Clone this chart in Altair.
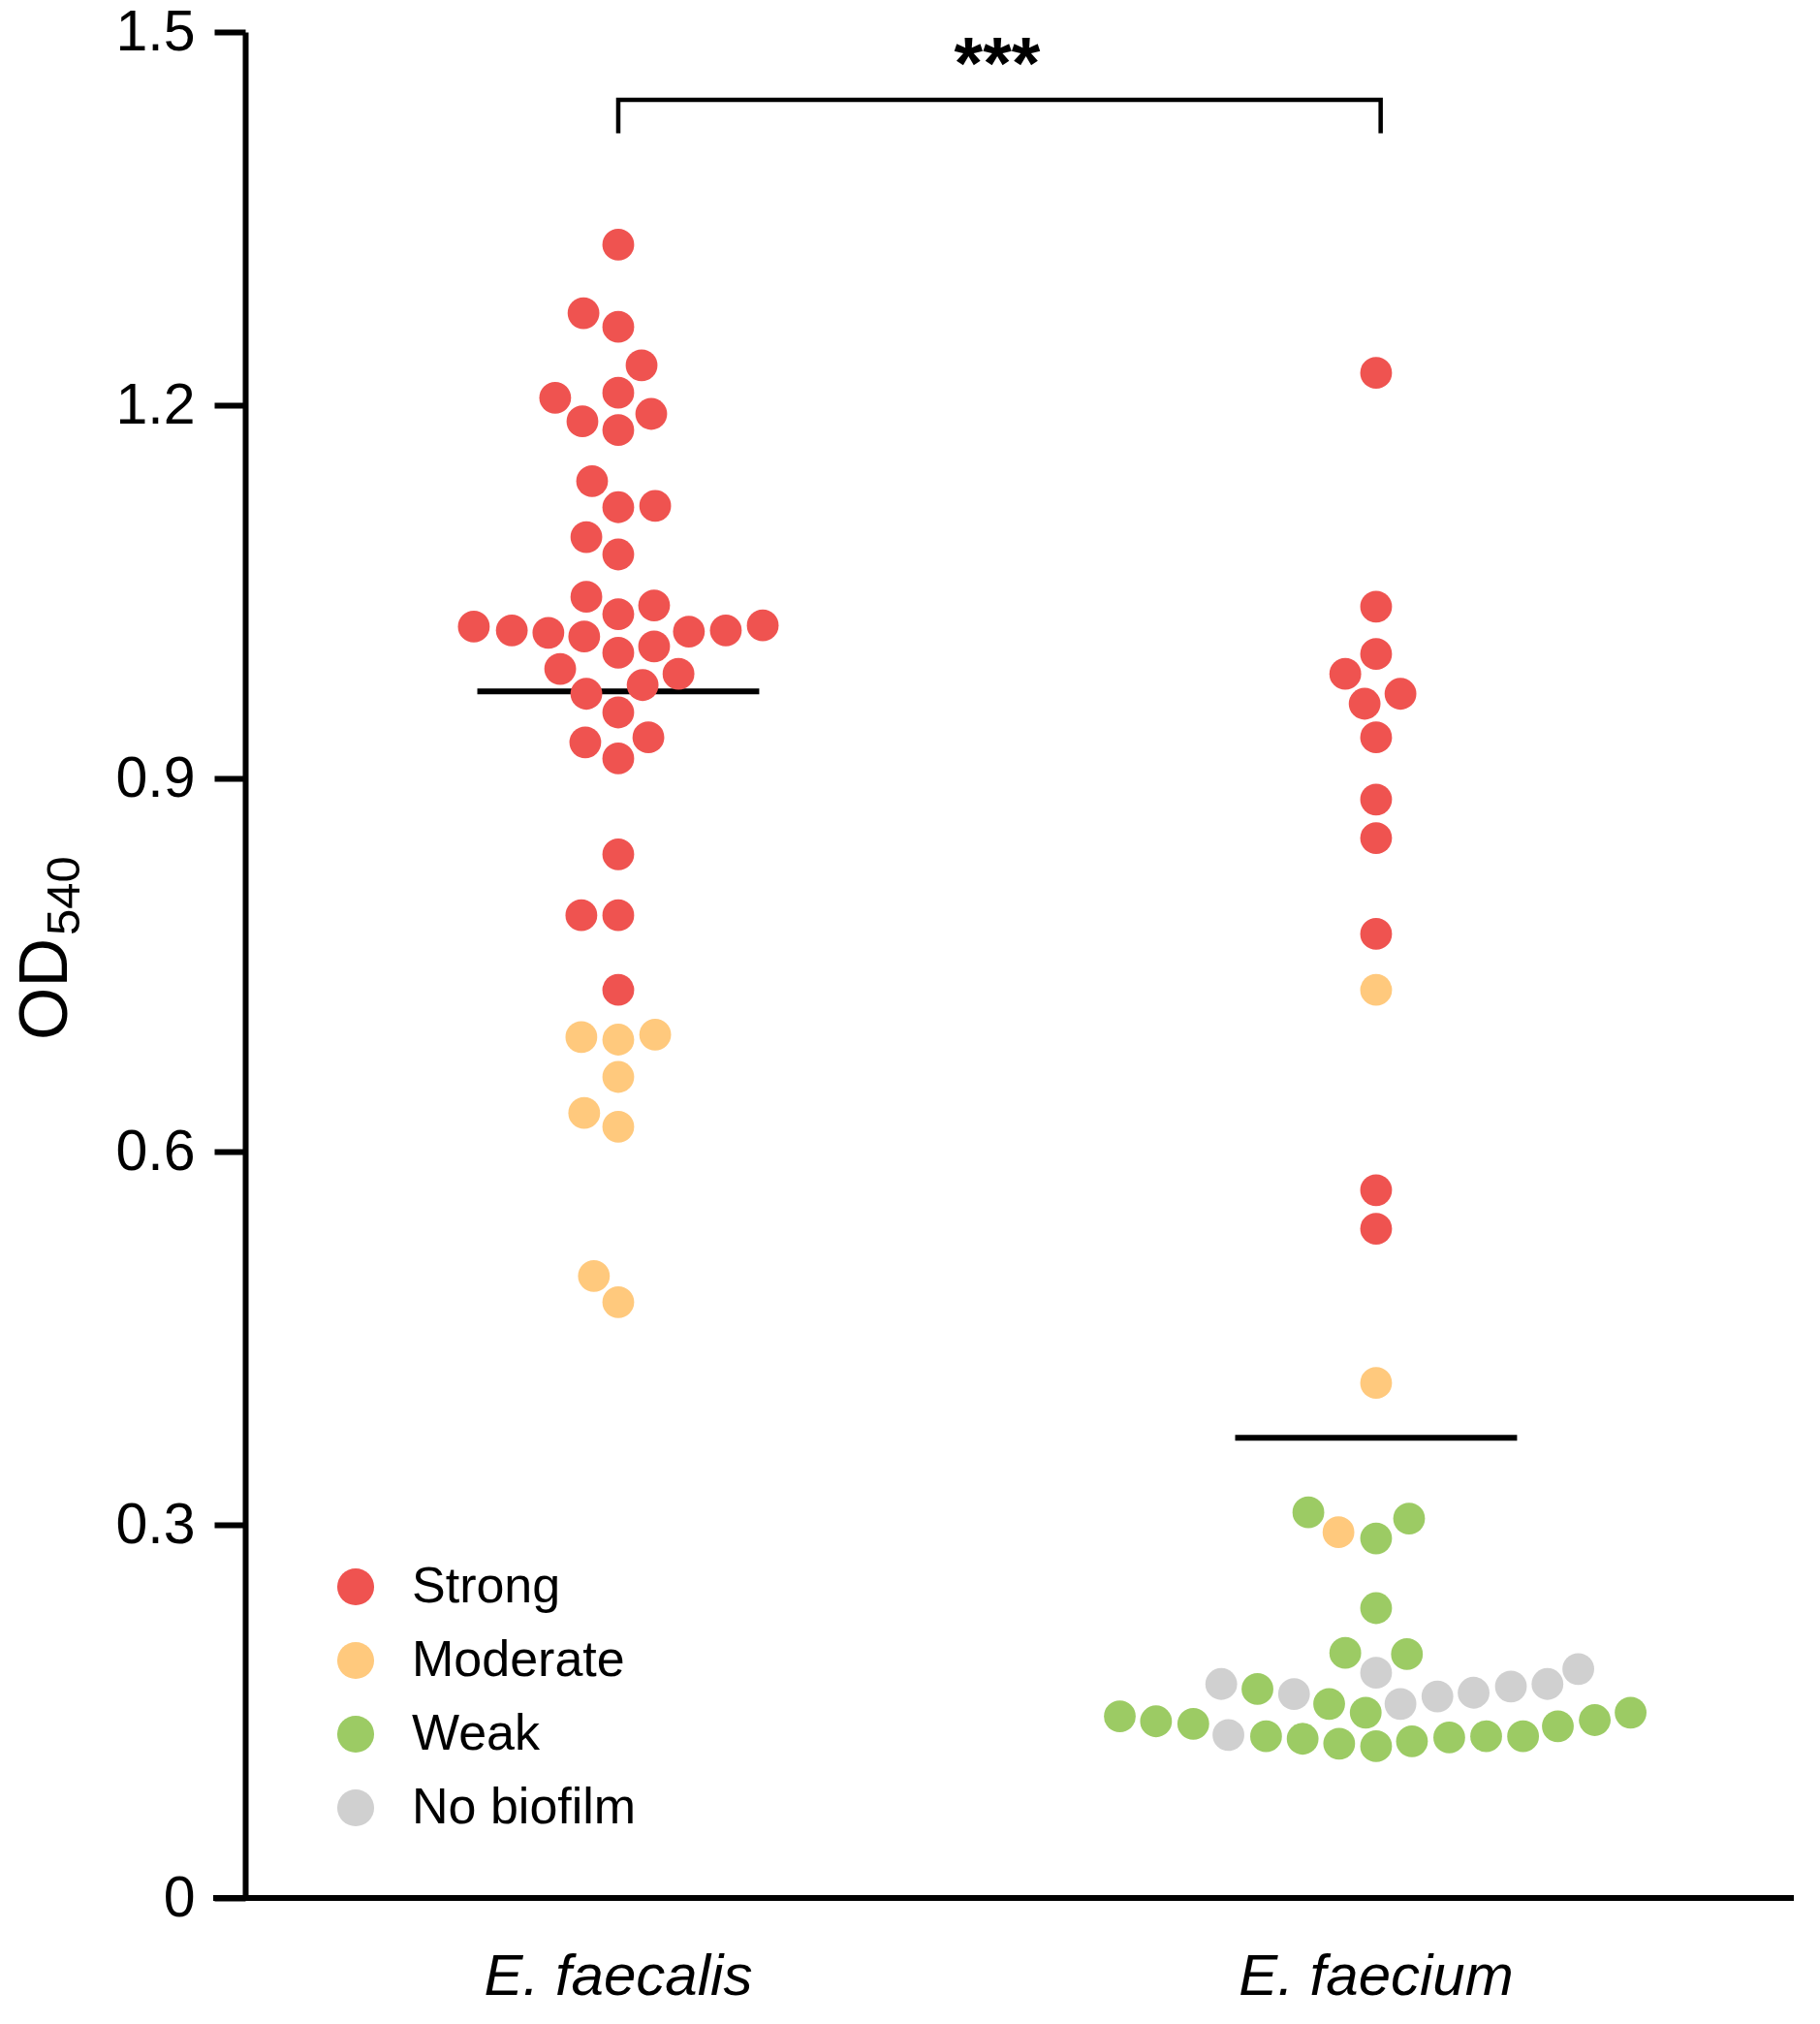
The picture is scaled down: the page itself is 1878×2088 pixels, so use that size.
import pandas as pd
import altair as alt

# ---------- data ----------

categories = ["E. faecalis", "E. faecium"]
classes = ["Strong", "Moderate", "Weak", "No biofilm"]
class_colors = ["#EF5350", "#FFC97D", "#9CCB64", "#D0D0D0"]
class_codes = {"S": "Strong", "M": "Moderate", "W": "Weak", "N": "No biofilm"}

# E. faecalis isolates: OD540, swarm lane (in dot widths), biofilm class
faecalis_od = [
    1.329, 1.274, 1.263, 1.232, 1.206, 1.210, 1.187, 1.180, 1.193, 1.139,
    1.118, 1.119, 1.094, 1.080, 1.046, 1.032, 1.039, 1.022, 1.019, 1.017,
    1.014, 1.001, 1.006, 1.018, 1.019, 1.023, 0.988, 0.984, 0.975, 0.968,
    0.953, 0.929, 0.933, 0.916, 0.839, 0.790, 0.790, 0.730,
    0.692, 0.690, 0.694, 0.660, 0.631, 0.620, 0.500, 0.479,
]
faecalis_lane = [
    0, -0.97, 0, 0.65, -1.76, 0, -1.0, 0, 0.92, -0.73,
    0, 1.03, -0.89, 0, -0.89, 0, 1.0, -4.03, -2.97, -1.95,
    -0.95, 0, 1.0, 1.97, 3.0, 4.03, -1.62, 1.68, 0.68, -0.89,
    0, -0.92, 0.84, 0, 0, -1.03, 0, 0,
    -1.03, 0, 1.03, 0, -0.95, 0, -0.68, 0,
]
faecalis_class = [
    "S", "S", "S", "S", "S", "S", "S", "S", "S", "S",
    "S", "S", "S", "S", "S", "S", "S", "S", "S", "S",
    "S", "S", "S", "S", "S", "S", "S", "S", "S", "S",
    "S", "S", "S", "S", "S", "S", "S", "S",
    "M", "M", "M", "M", "M", "M", "M", "M",
]

# E. faecium isolates
faecium_od = [
    1.226, 1.038, 1.000, 0.984, 0.968, 0.960, 0.933, 0.883, 0.852, 0.775,
    0.730, 0.569, 0.538, 0.414, 0.310, 0.294, 0.289, 0.305, 0.233, 0.197,
    0.196, 0.181, 0.172, 0.168, 0.164, 0.156, 0.149, 0.156, 0.162, 0.165,
    0.170, 0.172, 0.184, 0.146, 0.142, 0.140, 0.131, 0.130, 0.128, 0.124,
    0.122, 0.126, 0.129, 0.130, 0.130, 0.138, 0.143, 0.149,
]
faecium_lane = [
    0, 0, 0, -0.86, 0.68, -0.32, 0, 0, 0, 0,
    0, 0, 0, 0, -1.89, -1.05, 0, 0.92, 0, -0.86,
    0.86, 0, -4.32, -3.31, -2.29, -1.31, -0.29, 0.68, 1.71, 2.72,
    3.76, 4.78, 5.64, -7.15, -6.14, -5.10, -4.12, -3.07, -2.05, -1.03,
    0, 1.0, 2.04, 3.07, 4.1, 5.07, 6.1, 7.1,
]
faecium_class = [
    "S", "S", "S", "S", "S", "S", "S", "S", "S", "S",
    "M", "S", "S", "M", "W", "M", "W", "W", "W", "W",
    "W", "N", "N", "W", "N", "W", "W", "N", "N", "N",
    "N", "N", "N", "W", "W", "W", "N", "W", "W", "W",
    "W", "W", "W", "W", "W", "W", "W", "W",
]

group_means = [0.970, 0.370]

# significance bracket and label
bracket_x = [0, 0, 1.006, 1.006]
bracket_y = [1.4185, 1.4455, 1.4455, 1.4185]
sig_label = "***"

# ---------- layout ----------

W, H = 1598, 1925
DOT = 0.0473          # one dot width in category units
HALF_MEAN = 0.186     # half width of mean bar
X_DOMAIN = [-0.4923, 1.5512]
FONT = "Liberation Sans"
LINE = 6

rows = []
for gi, (ods, lanes, cls) in enumerate(
    [(faecalis_od, faecalis_lane, faecalis_class), (faecium_od, faecium_lane, faecium_class)]
):
    for od, lane, c in zip(ods, lanes, cls):
        rows.append({"group": gi, "lane": lane, "od": od, "biofilm": class_codes[c]})
points_df = pd.DataFrame(rows)

means_df = pd.DataFrame({"group": [0, 1], "mean": group_means})
bracket_df = pd.DataFrame({"x": bracket_x, "y": bracket_y, "i": range(len(bracket_x))})
cat_df = pd.DataFrame({"name": categories, "pos": [0, 1]})

xscale = alt.Scale(domain=X_DOMAIN, nice=False, zero=False)
yscale = alt.Scale(domain=[0, 1.5], nice=False)

y_axis = alt.Axis(
    values=[0, 0.3, 0.6, 0.9, 1.2, 1.5],
    labelExpr="datum.value == 0 ? '0' : format(datum.value, '.1f')",
    grid=False,
    title=None,
    domainColor="black",
    domainWidth=LINE,
    tickColor="black",
    tickWidth=LINE,
    tickSize=32,
    labelFont=FONT,
    labelFontSize=59,
    labelColor="black",
    labelPadding=20,
)

mean_bars = (
    alt.Chart(means_df)
    .transform_calculate(x0=f"datum.group - {HALF_MEAN}", x1=f"datum.group + {HALF_MEAN}")
    .mark_rule(color="black", strokeWidth=LINE)
    .encode(
        x=alt.X("x0:Q", scale=xscale, axis=None),
        x2="x1:Q",
        y=alt.Y("mean:Q", scale=yscale, axis=y_axis),
    )
)

dots = (
    alt.Chart(points_df)
    .transform_calculate(xpos=f"datum.group + datum.lane * {DOT}")
    .mark_circle(size=1075, opacity=1)
    .encode(
        x=alt.X("xpos:Q", scale=xscale, axis=None),
        y=alt.Y("od:Q", scale=yscale, axis=y_axis),
        color=alt.Color(
            "biofilm:N",
            scale=alt.Scale(domain=classes, range=class_colors),
            legend=alt.Legend(
                orient="none",
                legendX=88,
                legendY=1578,
                title=None,
                padding=0,
                symbolType="circle",
                symbolSize=1450,
                symbolOpacity=1,
                symbolStrokeWidth=0,
                labelFont=FONT,
                labelFontSize=52,
                labelColor="black",
                labelLimit=0,
                labelOffset=32,
                rowPadding=24,
            ),
        ),
    )
)

bracket = (
    alt.Chart(bracket_df)
    .mark_line(color="black", strokeWidth=4.5, strokeJoin="miter")
    .encode(x=alt.X("x:Q", scale=xscale), y=alt.Y("y:Q", scale=yscale), order="i:Q")
)

stars = (
    alt.Chart(pd.DataFrame({"t": [sig_label], "x": [0.5], "y": [1.455]}))
    .mark_text(font=FONT, fontSize=76, fontWeight="bold", baseline="alphabetic", color="black")
    .encode(x=alt.X("x:Q", scale=xscale), y=alt.Y("y:Q", scale=yscale), text="t:N")
)

x_line = (
    alt.Chart(pd.DataFrame({"y": [0]}))
    .mark_rule(color="black", strokeWidth=LINE)
    .encode(y=alt.Y("y:Q", scale=yscale), x=alt.value(-33), x2=alt.value(W))
)

x_labels = (
    alt.Chart(cat_df)
    .mark_text(font=FONT, fontSize=60, fontStyle="italic", baseline="alphabetic", color="black")
    .encode(x=alt.X("pos:Q", scale=xscale), y=alt.value(2025), text="name:N")
)

y_title = (
    alt.Chart(pd.DataFrame({"t": ["OD"]}))
    .mark_text(font=FONT, fontSize=70, angle=270, align="left", baseline="alphabetic", color="black")
    .encode(x=alt.value(-184), y=alt.value(1040), text="t:N")
)
y_title_sub = (
    alt.Chart(pd.DataFrame({"t": ["540"]}))
    .mark_text(font=FONT, fontSize=49, angle=270, align="left", baseline="alphabetic", color="black")
    .encode(x=alt.value(-171), y=alt.value(932), text="t:N")
)

chart = (
    alt.layer(mean_bars, dots, bracket, stars, x_line, x_labels, y_title, y_title_sub)
    .properties(
        width=W,
        height=H,
        autosize=alt.AutoSizeParams(type="none"),
        padding={"left": 245, "top": 25, "right": 19, "bottom": 122},
    )
    .configure_view(stroke=None)
)

chart.save("out.html", embed_options={"renderer": "svg", "actions": False})
